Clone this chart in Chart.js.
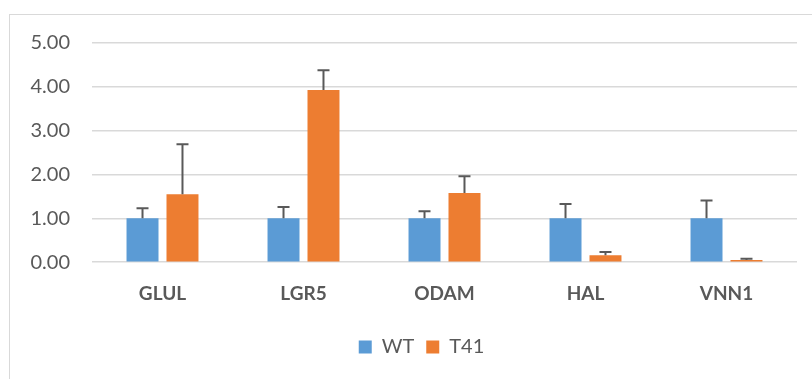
<!DOCTYPE html>
<html>
<head>
<meta charset="utf-8">
<script src="https://cdn.jsdelivr.net/npm/chart.js@4"></script>
<style>
  html, body { margin: 0; padding: 0; background: #fff; }
  #wrap { position: relative; width: 812px; height: 379px; overflow: hidden; }
  #frame { position: absolute; left: 9px; top: 14px; width: 900px; height: 500px; border: 1px solid #d9d9d9; }
  canvas { position: absolute; left: 0; top: 0; }
</style>
</head>
<body>
<div id="wrap">
  <div id="frame"></div>
  <canvas id="chart" width="812" height="379"></canvas>
</div>
<script>
// Values (WT normalised to 1.00)
const genes = ['GLUL', 'LGR5', 'ODAM', 'HAL', 'VNN1'];
const wtValues = [1.00, 1.00, 1.00, 1.00, 1.00];
const wtErrors = [0.23, 0.26, 0.16, 0.33, 0.41];
const t41Values = [1.55, 3.93, 1.58, 0.16, 0.05];
const t41Errors = [1.14, 0.45, 0.38, 0.07, 0.03];
const yTicks = [0, 1, 2, 3, 4, 5];

const FONT = 'Lato, "Open Sans", sans-serif';
const GREY = '#595959';

// simple error bar plugin (upper whisker only, like Excel "plus")
const errorBars = {
  id: 'errorBars',
  afterDatasetsDraw(chart) {
    const { ctx, scales: { y } } = chart;
    ctx.save();
    ctx.strokeStyle = GREY;
    ctx.lineWidth = 2;
    chart.data.datasets.forEach((ds, i) => {
      const meta = chart.getDatasetMeta(i);
      meta.data.forEach((bar, j) => {
        const top = y.getPixelForValue(ds.data[j] + ds.errors[j]);
        const base = y.getPixelForValue(ds.data[j]);
        ctx.beginPath();
        ctx.moveTo(bar.x, base);
        ctx.lineTo(bar.x, top);
        ctx.moveTo(bar.x - 6, top);
        ctx.lineTo(bar.x + 6, top);
        ctx.stroke();
      });
    });
    ctx.restore();
  }
};

// legend sits a bit right of canvas centre in the original
const legendShift = {
  id: 'legendShift',
  afterLayout(chart) {
    chart.legend.left += 18;
    chart.legend.right += 18;
  }
};

new Chart(document.getElementById('chart'), {
  type: 'bar',
  data: {
    labels: genes,
    datasets: [
      { label: 'WT', data: wtValues, errors: wtErrors, backgroundColor: '#5b9bd5' },
      { label: 'T41', data: t41Values, errors: t41Errors, backgroundColor: '#ed7d31' }
    ]
  },
  options: {
    responsive: false,
    animation: false,
    categoryPercentage: 0.567,
    barPercentage: 0.8,
    layout: { padding: { left: 10, right: 15, top: 43, bottom: 12 } },
    scales: {
      x: {
        grid: { display: false },
        border: { display: false },
        afterFit: (s) => { s.height += 8; },
        ticks: { color: GREY, font: { family: FONT, size: 19, weight: 'bold' }, padding: 12 }
      },
      y: {
        min: 0,
        max: 5,
        afterBuildTicks: (s) => { s.ticks = yTicks.map(v => ({ value: v })); },
        afterFit: (s) => { s.width = 82; },
        grid: { color: '#d9d9d9', lineWidth: 1.5, drawTicks: false },
        border: { display: false },
        ticks: {
          color: GREY,
          padding: 22,
          font: { family: FONT, size: 20 },
          callback: (v) => v.toFixed(2)
        }
      }
    },
    plugins: {
      legend: {
        position: 'bottom',
        labels: { color: GREY, boxWidth: 13, boxHeight: 13, padding: 12, font: { family: FONT, size: 20 } }
      },
      tooltip: { enabled: false }
    }
  },
  plugins: [errorBars, legendShift]
});
</script>
</body>
</html>
